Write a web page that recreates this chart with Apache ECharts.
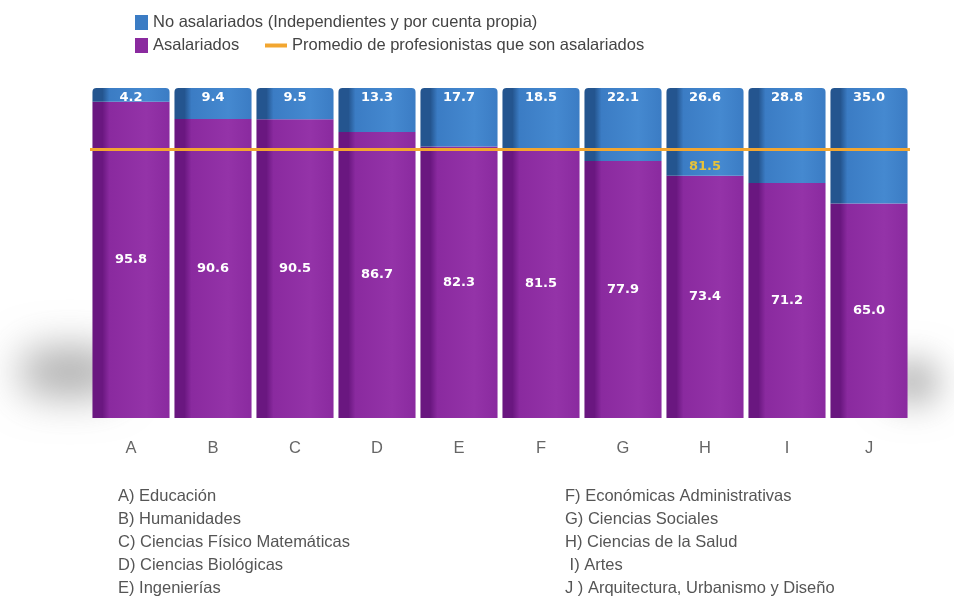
<!DOCTYPE html>
<html>
<head>
<meta charset="utf-8">
<script src="https://cdn.jsdelivr.net/npm/echarts@6/dist/echarts.min.js"></script>
<style>
  html, body { margin: 0; padding: 0; background: #fff; }
  #chart { width: 954px; height: 614px; }
</style>
</head>
<body>
<div id="chart"></div>
<script>
// datos
var letras = ['A', 'B', 'C', 'D', 'E', 'F', 'G', 'H', 'I', 'J']
var areas = ['Educación', 'Humanidades', 'Ciencias Físico Matemáticas', 'Ciencias Biológicas', 'Ingenierías',
  'Económicas Administrativas', 'Ciencias Sociales', 'Ciencias de la Salud', 'Artes', 'Arquitectura, Urbanismo y Diseño']
var asalariados = [95.8, 90.6, 90.5, 86.7, 82.3, 81.5, 77.9, 73.4, 71.2, 65.0]
var noAsalariados = [4.2, 9.4, 9.5, 13.3, 17.7, 18.5, 22.1, 26.6, 28.8, 35.0]
var promedio = 81.5
var promedioEn = 'H'

var nomNo = 'No asalariados (Independientes y por cuenta propia)'
var nomSi = 'Asalariados'
var nomProm = 'Promedio de profesionistas que son asalariados'

var AZUL = '#3b7cc4'
var MORADO = '#8a2a9f'
var NARANJA = '#f2a630'
var FUENTE = '"Liberation Sans", Arial, sans-serif'

var chart = echarts.init(document.getElementById('chart'))

// degradado horizontal para simular el volumen de las barras
function barra (dark, main, light) {
  return new echarts.graphic.LinearGradient(0, 0, 1, 0, [
    { offset: 0, color: dark },
    { offset: 0.13, color: dark },
    { offset: 0.22, color: main },
    { offset: 0.7, color: light },
    { offset: 1, color: main }
  ])
}

// sombra difusa: el rect queda fuera de pantalla y solo se ve su sombra
function sombra (x, y, w, h, blur, alpha) {
  return {
    type: 'rect', z: -1,
    shape: { x: x - 2000, y: y, width: w, height: h, r: h / 2 },
    style: {
      fill: '#777',
      shadowBlur: blur,
      shadowOffsetX: 2000,
      shadowColor: 'rgba(120,120,120,' + alpha + ')'
    }
  }
}

// lista de areas abajo, en dos columnas
var lista = []
areas.forEach(function (a, i) {
  var col = i < 5 ? 0 : 1
  var fila = i % 5
  var pref = letras[i] + ') '
  if (letras[i] === 'I') { pref = ' I) ' }
  if (letras[i] === 'J') { pref = 'J ) ' }
  lista.push({
    type: 'text',
    left: col === 0 ? 118 : 565,
    top: 488 + fila * 23,
    style: { text: pref + a, font: '16.5px ' + FUENTE, fill: '#555' }
  })
})

var textoLabel = { color: '#fff', fontWeight: 'bold', fontSize: 13, fontFamily: '"DejaVu Sans", sans-serif' }
var textoLeyenda = { fontSize: 16.5, color: '#444', fontFamily: FUENTE }

chart.setOption({
  animation: false,
  legend: [
    {
      left: 130, top: 9, itemWidth: 13, itemHeight: 15, itemGap: 14, selectedMode: false,
      textStyle: textoLeyenda,
      data: [{ name: nomNo, icon: 'rect', itemStyle: { color: AZUL } }]
    },
    {
      left: 130, top: 32, itemWidth: 13, itemHeight: 15, selectedMode: false,
      textStyle: textoLeyenda,
      data: [{ name: nomSi, icon: 'rect', itemStyle: { color: MORADO } }]
    },
    {
      left: 260, top: 32, itemWidth: 22, itemHeight: 4, itemGap: 14, selectedMode: false,
      textStyle: textoLeyenda,
      data: [{ name: nomProm, icon: 'rect', itemStyle: { color: NARANJA } }]
    }
  ],
  grid: { left: 90, right: 44, top: 88, bottom: 196 },
  xAxis: {
    type: 'category',
    data: letras,
    axisLine: { show: false },
    axisTick: { show: false },
    axisLabel: { margin: 22, fontSize: 16.5, color: '#666', fontFamily: FUENTE }
  },
  yAxis: { type: 'value', min: 0, max: 100, show: false, splitLine: { show: false } },
  graphic: [
    sombra(20, 348, 100, 48, 40, 0.6),
    sombra(885, 360, 55, 44, 34, 0.55)
  ].concat(lista),
  series: [
    {
      name: nomSi,
      type: 'bar',
      stack: 'total',
      barCategoryGap: '6%',
      data: asalariados,
      itemStyle: { color: barra('#6a1780', MORADO, '#9433a8') },
      label: { show: true, position: 'inside', formatter: function (p) { return p.value.toFixed(1) }, ...textoLabel }
    },
    {
      name: nomNo,
      type: 'bar',
      stack: 'total',
      data: noAsalariados,
      itemStyle: { color: barra('#24558f', AZUL, '#4589d0'), borderRadius: [4, 4, 0, 0] },
      label: { show: true, position: 'insideTop', distance: 3, formatter: function (p) { return p.value.toFixed(1) }, ...textoLabel }
    },
    {
      name: nomProm,
      type: 'line',
      data: [],
      itemStyle: { color: NARANJA },
      markLine: {
        silent: true,
        symbol: 'none',
        label: { show: false },
        lineStyle: { color: NARANJA, width: 3, type: 'solid' },
        data: [{ yAxis: promedio }]
      },
      markPoint: {
        symbol: 'circle',
        symbolSize: 0,
        label: { show: true, offset: [0, 18], color: '#e6c23a', fontWeight: 'bold', fontSize: 13, fontFamily: '"DejaVu Sans", sans-serif', formatter: promedio.toFixed(1) },
        data: [{ coord: [promedioEn, promedio] }]
      }
    }
  ]
})
</script>
</body>
</html>
